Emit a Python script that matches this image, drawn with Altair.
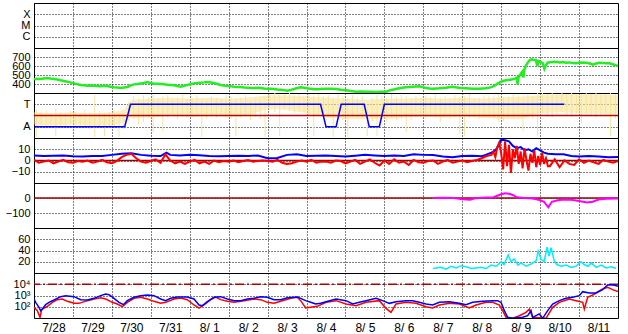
import altair as alt
import pandas as pd

# ---------------- labels ----------------
tick_labels = ["7/28", "7/29", "7/30", "7/31", "8/ 1", "8/ 2", "8/ 3", "8/ 4",
               "8/ 5", "8/ 6", "8/ 7", "8/ 8", "8/ 9", "8/10", "8/11"]
xray_levels = {1: "X", 0: "M", -1: "C"}
mag_levels = {1: "T", -1: "A"}
flux_labels = {10000: "10⁴", 1000: "10³", 100: "10²"}

# ---------------- data (x = days since 7/28 00:00) ----------------
speed_day = [0.00, 0.08, 0.17, 0.25, 0.34, 0.42, 0.51, 0.6, 0.68, 0.77, 0.86, 0.95, 1.03, 1.12, 1.20, 1.29,
             1.37, 1.46, 1.54, 1.63, 1.71, 1.8, 1.88, 1.96, 2.05, 2.14, 2.23, 2.31, 2.40, 2.48, 2.57, 2.66,
             2.74, 2.83, 2.91, 3.0, 3.08, 3.17, 3.25, 3.34, 3.42, 3.51, 3.60, 3.68, 3.77, 3.85, 3.94, 4.02,
             4.11, 4.2, 4.28, 4.37, 4.45, 4.54, 4.62, 4.71, 4.79, 4.88, 4.97, 5.05, 5.14, 5.22, 5.31, 5.4,
             5.48, 5.57, 5.65, 5.74, 5.82, 5.9, 5.99, 6.08, 6.16, 6.25, 6.34, 6.42, 6.51, 6.6, 6.68, 6.77,
             6.85, 6.94, 7.02, 7.1, 7.19, 7.28, 7.36, 7.5, 7.63, 7.76, 7.88, 8.01, 8.14, 8.27, 8.4, 8.53,
             8.65, 8.78, 8.91, 9.04, 9.12, 9.21, 9.3, 9.38, 9.46, 9.55, 9.64, 9.73, 9.81, 9.90, 9.98, 10.07,
             10.16, 10.24, 10.33, 10.41, 10.5, 10.58, 10.66, 10.75, 10.83, 10.92, 11.01, 11.10, 11.18, 11.27,
             11.35, 11.44, 11.52, 11.61, 11.7, 11.78, 11.85, 11.91, 11.98, 12.04, 12.1, 12.17, 12.23, 12.29,
             12.35, 12.40, 12.42, 12.44, 12.47, 12.51, 12.55, 12.57, 12.59, 12.63, 12.68, 12.72, 12.77, 12.83,
             12.89, 12.93, 12.96, 13.02, 13.07, 13.11, 13.15, 13.19, 13.3, 13.41, 13.5, 13.6, 13.66, 13.75,
             13.83, 13.92, 14.0, 14.09, 14.18, 14.26, 14.35, 14.44, 14.52, 14.6, 14.7, 14.78, 14.86, 14.93, 15.0]
speed_val = [452, 458, 456, 462, 467, 460, 456, 450, 441, 433, 426, 415, 407, 398, 389, 385,
             381, 384, 381, 377, 374, 380, 378, 370, 363, 360, 355, 360, 367, 385, 396, 400,
             407, 412, 422, 410, 404, 402, 400, 396, 393, 389, 385, 378, 370, 380, 389, 398,
             407, 411, 415, 418, 422, 416, 411, 400, 389, 382, 378, 374, 370, 368, 367, 362,
             359, 356, 355, 357, 355, 350, 348, 346, 344, 340, 337, 332, 326, 335, 344, 355,
             363, 358, 352, 346, 341, 343, 344, 348, 346, 344, 336, 330, 322, 315, 317, 315,
             313, 311, 313, 315, 326, 337, 345, 352, 358, 363, 367, 370, 372, 374, 365, 355,
             350, 348, 350, 352, 356, 359, 365, 370, 364, 359, 355, 352, 350, 348,
             348, 348, 350, 352, 360, 370, 388, 404, 420, 433, 440, 444, 448, 452,
             460, 470, 396, 467, 490, 519, 540, 470, 556, 600, 637, 660, 674, 670,
             667, 600, 655, 644, 630, 570, 610, 637, 645, 648, 640, 645, 637, 640,
             632, 630, 635, 640, 637, 630, 615, 628, 637, 634, 630, 630, 620, 612, 600]

# magnetometer state: T = 1, A = -1
mag_day = [0, 2.33, 2.48, 7.36, 7.5, 7.76, 7.89, 8.48, 8.61, 8.87, 9.0, 13.62]
mag_val = [-1, -1, 1, 1, -1, -1, 1, 1, -1, -1, 1, 1]

# pale yellow scatter: dense core band and sparse streaks (every 3 hours: high / low)
core_day = [0, 0.5, 1.0, 1.5, 2.0, 2.3, 2.5, 3.0, 3.5, 4.0, 4.5, 5.0, 5.5, 6.0, 6.5, 7.0, 7.5, 8.0,
            8.5, 9.0, 9.5, 10.0, 10.5, 11.0, 11.5, 12.0, 12.5, 13.0, 13.5, 14.0, 14.5, 15.0]
core_hi = [0.3, 0.2, 0.3, 0.2, 0.3, 0.5, 1.4, 1.5, 1.6, 1.5, 1.6, 1.5, 1.6, 1.8, 1.8, 1.7, 1.6, 1.5,
           1.4, 1.5, 1.5, 1.6, 1.5, 1.6, 1.5, 1.6, 1.7, 1.8, 1.9, 1.9, 1.9, 1.8]
core_lo = [-0.8, -0.9, -0.8, -0.9, -0.9, -0.6, -0.2, -0.2, 0.0, -0.1, 0.0, -0.1, 0.0, 0.6, 0.5, 0.2,
           -0.2, -0.3, -0.3, -0.3, -0.2, -0.1, -0.2, -0.1, -0.2, -0.3, -0.3, 0.2, 0.3, 0.2, 0.2, 0.1]
band_hi = [0.5, 0.3, 0.4, 0.2, 0.6, 0.3, 0.2, 0.4, 0.3, 0.2, 0.5, 0.3, 1.8, 0.4, 0.2, 0.3, 0.5, 0.2, 0.4,
           1.2, 1.7, 1.5, 1.8, 1.6,
           1.9, 1.5, 1.7, 1.8, 1.4, 1.6, 1.9, 1.5,
           1.6, 1.8, 1.5, 1.4, 1.7, 1.6, 1.5, 1.8,
           1.7, 1.5, 1.6, 1.8, 1.4, 1.6, 1.5, 1.7,
           1.9, 2.0, 1.8, 1.9, 2.0, 1.8, 1.9, 1.7,
           1.9, 1.8, 1.9, 1.7,
           1.8, 1.6, 1.9, 1.7, 1.5, 1.8, 1.6, 1.7,
           0.8, 1.6, 1.8, 1.7, 1.5, 1.9, 1.6, 1.8, 1.7, 1.5,
           1.7, 1.5, 1.8, 1.6, 1.9, 1.6, 1.7, 1.5, 1.8, 1.6, 1.7, 1.9, 1.5, 1.6, 1.8, 1.7,
           1.8, 1.9, 1.6, 1.7, 1.9, 1.8, 1.6, 1.9, 1.7, 2.0,
           2.0, 1.9, 2.0, 1.8, 2.0, 1.9, 2.0, 1.8, 1.9, 2.0, 1.9, 2.0, 1.8, 1.9, 2.0, 1.9]
band_lo = [-1.9, -0.9, -1.0, -0.8, -1.8, -0.9, -1.0, -0.8, -1.1, -1.0, -0.9, -1.2, -1.9, -1.0, -1.8, -1.1, -1.0, -1.9, -1.2,
           -0.5, -0.3, -0.8, -0.6, -0.2,
           -1.5, -0.1, -1.4, -0.2, 0.1, -0.3, -0.1, -0.2,
           -0.2, 0.0, -1.9, -0.3, -0.1, -0.2, 0.1, -0.2,
           -0.3, -1.8, -0.2, 0.0, -0.4, -0.1, -0.3, -1.9,
           0.5, 0.3, -1.8, 0.6, 0.4, 0.2, 0.5, 0.3,
           0.0, -1.8, 0.2, -0.3,
           -0.2, -1.9, 0.0, -0.4, -1.9, -0.1, -0.3, -0.2,
           -1.8, -0.5, -1.8, -0.3, -0.6, -0.2, -0.4, -0.3, -1.5, -0.4,
           -0.2, -0.1, -0.3, 0.0, -0.2, -0.6, -0.1, -0.3, -0.2, -1.6, -1.8, -0.2, -0.1, -0.3, 0.0, -0.2,
           -0.3, -0.6, -0.5, -0.2, -0.3, -0.1, -1.4, -0.2, -0.3, -1.8,
           0.2, 0.0, -0.2, 0.1, 0.3, 0.0, -0.1, 0.2, -0.7, 0.1, 0.0, -0.2, 0.1, 0.2, -1.8, -0.3]
band_day = [i * 0.125 + 0.06 for i in range(len(band_hi))]

# field strength (blue) and Bz (red), nT
bt_day = [0, 0.25, 0.5, 0.75, 1.0, 1.25, 1.5, 1.75, 2.0, 2.25, 2.5, 2.75, 3.0, 3.25, 3.4, 3.5, 3.75,
          4.0, 4.25, 4.5, 4.75, 5.0, 5.25, 5.5, 5.75, 6.0, 6.25, 6.5, 6.75, 7.0, 7.25, 7.5, 7.75,
          8.0, 8.25, 8.5, 8.75, 9.0, 9.25, 9.5, 9.75, 10.0, 10.25, 10.5, 10.75, 11.0, 11.25, 11.5,
          11.6, 11.75, 11.85, 11.95, 12.0, 12.1, 12.2, 12.3, 12.4, 12.5, 12.6, 12.7, 12.8, 12.9,
          13.0, 13.1, 13.2, 13.4, 13.6, 13.8, 14.0, 14.25, 14.5, 14.75, 15.0]
bt_val = [4.5, 4.0, 4.2, 4.5, 3.8, 3.6, 4.0, 3.9, 5.0, 6.0, 6.5, 5.0, 4.2, 4.0, 7.0, 5.0, 4.5,
          5.0, 4.6, 4.0, 3.8, 4.0, 4.2, 4.0, 4.5, 2.0, 2.2, 5.0, 5.5, 4.0, 4.3, 4.5, 4.0,
          3.5, 4.2, 5.0, 4.5, 4.0, 4.5, 4.0, 5.5, 5.0, 4.8, 3.5, 3.0, 4.0, 4.2, 3.8,
          5.0, 7.0, 9.0, 14.0, 18.5, 18.0, 17.0, 13.0, 11.0, 12.0, 9.0, 10.0, 8.0, 11.0,
          9.0, 7.0, 6.0, 5.5, 5.5, 4.0, 3.5, 4.0, 3.5, 3.0, 3.2]
bz_val = [0.5, -2, -1, 0, -2.5, -1, 0.5, -1.5, -2, -0.5, -1, 0, -2, -1, 0.5, -1.5, -2.5, -0.5,
          3, 5, 6, 2, -1, -2,
          -0.5, 1, -2, 5.5, 0, -2.5, -1, -3,
          -1, 0.5, -2.5, -1, -3, 0, -1.5, -0.5,
          -1, 0, -1.5, -0.5, 0.5, -1, -0.5, 0,
          -0.5, -1, 0.5, -2, -3, -2.5, -1, 0,
          -1, 0.5, -2, -1,
          -1, -2, 0, -0.5, -2.5, -1, 0.5, -3, -1, 1, -2, -4.5, 0, -3, 1, -2, -1, -4, 0.5, -1.5,
          -2, -0.5, 0, -3, -1, 0.5, -2, -1, 0, -1.5, -0.5, 0.5, 2, 4,
          5, 8, 3, 12, 16, 6, -8, 17, -5, 14, -11, 10, 2, 13, -3, 8, -7, 11, 0, -9,
          6, -2, 9, -6, 4, -4, 7, -3, 2, -5,
          -5, 1, -6, 0, -3, -4, 1, -2, 0, -1.5, -3, 0.5, -1, -2, -0.5]
bz_day = ([i * 0.125 for i in range(94)] + [11.75 + i * 0.05 for i in range(30)]
          + [13.25 + i * 0.125 for i in range(15)])

# Dst-like index (magenta)
dst_day = [10.25, 10.5, 10.8, 11.0, 11.2, 11.3, 11.5, 11.8, 12.0, 12.1, 12.2, 12.3, 12.4, 12.6, 12.8,
           12.9, 13.0, 13.1, 13.21, 13.3, 13.45, 13.6, 13.8, 14.0, 14.2, 14.35, 14.5, 14.7, 15.0]
dst_val = [0, 1, 0, -8, -12, -3, 2, 5, 25, 32, 28, 20, 5, 0, -3,
           -8, -15, -25, -62, -25, -15, -10, -12, -20, -30, -25, -10, -5, -4]

# cyan index
kp_day = [10.25, 10.45, 10.58, 10.71, 10.84, 10.97, 11.10, 11.23, 11.35, 11.48, 11.61, 11.74, 11.87,
          12.0, 12.07, 12.18, 12.25, 12.33, 12.43, 12.51, 12.64, 12.77, 12.90, 12.95, 13.02, 13.10,
          13.18, 13.23, 13.28, 13.36, 13.43, 13.54, 13.67, 13.79, 13.92, 14.05, 14.13, 14.23, 14.31,
          14.44, 14.57, 14.69, 14.82, 14.95]
kp_val = [8, 10, 7, 12, 9, 13, 11, 8, 9, 10, 8, 14, 12,
          20, 15, 32, 20, 25, 14, 18, 12, 16, 22, 39, 25, 20,
          46, 30, 45, 22, 15, 12, 14, 10, 12, 20, 15, 12, 18,
          10, 14, 9, 11, 8]

# electron flux (blue and red)
e_blue_day = [0.0, 0.043, 0.128, 0.171, 0.214, 0.30, 0.385, 0.514, 0.685, 0.813, 1.027, 1.199, 1.37,
              1.541, 1.712, 1.841, 1.926, 2.055, 2.183, 2.295, 2.397, 2.568, 2.74, 2.911, 3.082, 3.253,
              3.382, 3.51, 3.682, 3.938, 4.11, 4.238, 4.324, 4.452, 4.623, 4.795, 4.966, 5.137, 5.308,
              5.479, 5.651, 5.822, 5.993, 6.164, 6.336, 6.507, 6.764, 6.849, 6.978, 7.106, 7.235, 7.363,
              7.5, 7.757, 8.014, 8.185, 8.356, 8.527, 8.784, 8.955, 9.127, 9.298, 9.555, 9.726, 9.897,
              10.068, 10.24, 10.411, 10.668, 10.925, 11.096, 11.267, 11.524, 11.781, 11.909, 11.995,
              12.08, 12.166, 12.295, 12.551, 12.68, 12.765, 12.808, 12.979, 13.065, 13.193, 13.322,
              13.493, 13.664, 13.836, 14.007, 14.092, 14.264, 14.435, 14.606, 14.734, 14.863, 15.0]
e_blue_val = [489, 247, 89, 45, 63, 153, 247, 399, 789, 968, 789, 427, 399,
              561, 968, 1360, 1190, 561, 247, 153, 348, 688, 968, 1110, 968, 489,
              348, 561, 737, 737, 489, 143, 125, 283, 688, 789, 489, 348, 348,
              489, 561, 789, 688, 427, 427, 642, 737, 561, 348, 247, 176, 201,
              283, 489, 348, 176, 247, 348, 561, 348, 201, 283, 348, 348, 247,
              176, 143, 247, 283, 201, 153, 247, 303, 348, 348, 247,
              45, 11.5, 9.4, 11.5, 16, 45, 11.5, 23, 9.4, 45, 176,
              348, 561, 688, 968, 2190, 1670, 1670, 3300, 8590, 9190, 6530]
e_red_day = [0.0, 0.086, 0.154, 0.19, 0.214, 0.342, 0.471, 0.599, 0.728, 0.856, 1.027, 1.156, 1.37,
             1.541, 1.712, 1.841, 2.012, 2.14, 2.269, 2.33, 2.397, 2.568, 2.74, 2.911, 3.082, 3.253,
             3.382, 3.596, 3.767, 3.938, 4.11, 4.238, 4.366, 4.538, 4.666, 4.795, 4.966, 5.137, 5.394,
             5.651, 5.822, 5.993, 6.164, 6.336, 6.592, 6.764, 6.849, 6.978, 7.106, 7.277, 7.5, 7.757,
             8.014, 8.271, 8.527, 8.87, 9.041, 9.17, 9.298, 9.555, 9.812, 10.068, 10.24, 10.411, 10.668,
             10.925, 11.182, 11.353, 11.61, 11.781, 11.952, 12.038, 12.123, 12.295, 12.466, 12.637,
             12.723, 12.808, 13.151, 13.322, 13.493, 13.75, 13.921, 14.092, 14.135, 14.221, 14.349,
             14.606, 14.734, 14.863, 15.0]
e_red_val = [89, 45, 11.5, 45, 63, 109, 247, 427, 489, 303, 201, 201, 348,
             489, 642, 489, 247, 176, 102, 150, 247, 561, 688, 489, 303, 201,
             247, 489, 600, 427, 143, 77, 143, 427, 737, 427, 303, 247, 348,
             489, 427, 247, 201, 303, 561, 688, 348, 77, 89, 109, 247, 348,
             176, 125, 247, 348, 72, 32, 176, 247, 201, 102, 77, 143, 201,
             176, 77, 143, 247, 247, 143, 45, 11.5, 9.4, 16, 32,
             63, 11.5, 9.4, 89, 247, 489, 348, 247, 63, 688, 1110,
             3780, 5320, 3300, 2190]

# ---------------- chart ----------------
W, H = 584, 45
day_ticks = list(range(0, 15))
label_expr_x = "[" + ",".join("'" + t + "'" for t in tick_labels) + "][datum.value]"


def xenc(show=False):
    return alt.X("d:Q", scale=alt.Scale(domain=[0, 15], nice=False, zero=False),
                 axis=alt.Axis(values=day_ticks, grid=True, ticks=False, domain=False, labels=show,
                               title=None, labelExpr=label_expr_x, labelOffset=19.47, labelFlush=False,
                               labelOverlap=False, labelPadding=4, labelFontSize=12))


def yenc(field, domain, values, mapping=None, log=False):
    if mapping:
        expr = " : ".join("datum.value == %s ? '%s'" % (k, v) for k, v in mapping.items()) + " : ''"
    else:
        expr = "datum.label"
    sc = alt.Scale(domain=domain, nice=False, zero=False, type="log") if log else \
        alt.Scale(domain=domain, nice=False, zero=False)
    return alt.Y(field + ":Q", scale=sc,
                 axis=alt.Axis(values=values, labelExpr=expr, ticks=False, domain=False, title=None,
                               grid=True, labelPadding=4, labelFontSize=11, labelOverlap=False,
                               labelFlush=False))


def hline(value, domain, values, color, dash=None, mapping=None, log=False, width=1.5):
    m = alt.Chart(pd.DataFrame({"v": [value]})).mark_rule(color=color, strokeWidth=width,
                                                           **({"strokeDash": dash} if dash else {}))
    return m.encode(y=yenc("v", domain, values, mapping, log))


# panel 1: flare classes (no data)
d1 = [-2, 2]
v1 = [1, 0, -1]
p1 = alt.Chart(pd.DataFrame({"d": [0], "v": [0]})).mark_point(opacity=0).encode(
    x=xenc(), y=yenc("v", d1, v1, xray_levels))

# panel 2: green speed
d2 = [300, 800]
v2 = [400, 500, 600, 700]
p2 = alt.Chart(pd.DataFrame({"d": speed_day, "v": speed_val})).mark_line(
    color="#22ee22", strokeWidth=2.5, clip=True).encode(x=xenc(), y=yenc("v", d2, v2))

# panel 3: magnetometer
d3 = [-2, 2]
v3 = [1, -1]
core = alt.Chart(pd.DataFrame({"d": core_day, "lo": core_lo, "hi": core_hi})).mark_area(
    color="#f7e18c", opacity=0.55, clip=True).encode(
    x=xenc(), y=yenc("lo", d3, v3, mag_levels), y2="hi:Q")
band = alt.Chart(pd.DataFrame({"d": band_day, "lo": band_lo, "hi": band_hi})).mark_rule(
    color="#f6e49e", strokeWidth=1, clip=True).encode(
    x=xenc(), y=yenc("lo", d3, v3, mag_levels), y2="hi:Q")
magline = alt.Chart(pd.DataFrame({"d": mag_day, "v": mag_val})).mark_line(
    color="#0000ff", strokeWidth=1.5, clip=True).encode(x=xenc(), y=yenc("v", d3, v3, mag_levels))
p3 = alt.layer(core, band, hline(0, d3, v3, "#c00000", mapping=mag_levels), magline)

# panel 4: field
d4 = [-20, 20]
v4 = [10, 0, -10]
bt = alt.Chart(pd.DataFrame({"d": bt_day, "v": bt_val})).mark_line(
    color="#0000ff", strokeWidth=2, clip=True).encode(x=xenc(), y=yenc("v", d4, v4))
bz = alt.Chart(pd.DataFrame({"d": bz_day, "v": bz_val})).mark_line(
    color="#ff0000", strokeWidth=2, clip=True).encode(x=xenc(), y=yenc("v", d4, v4))
p4 = alt.layer(hline(0, d4, v4, "#a00000"), bt, bz)

# panel 5: magenta index
d5 = [-200, 100]
v5 = [0, -100]
dst = alt.Chart(pd.DataFrame({"d": dst_day, "v": dst_val})).mark_line(
    color="#ff00ff", strokeWidth=2, clip=True).encode(x=xenc(), y=yenc("v", d5, v5))
p5 = alt.layer(hline(0, d5, v5, "#a00000"), dst)

# panel 6: cyan index
d6 = [0, 80]
v6 = [60, 40, 20]
p6 = alt.Chart(pd.DataFrame({"d": kp_day, "v": kp_val})).mark_line(
    color="#00eeff", strokeWidth=1.5, clip=True).encode(x=xenc(), y=yenc("v", d6, v6))

# panel 7: electron flux (log)
d7 = [10, 100000]
v7 = [10000, 1000, 100]
er = alt.Chart(pd.DataFrame({"d": e_red_day, "v": e_red_val})).mark_line(
    color="#ff0000", strokeWidth=1.5, clip=True).encode(x=xenc(True), y=yenc("v", d7, v7, flux_labels, True))
eb = alt.Chart(pd.DataFrame({"d": e_blue_day, "v": e_blue_val})).mark_line(
    color="#0000ff", strokeWidth=1.5, clip=True).encode(x=xenc(True), y=yenc("v", d7, v7, flux_labels, True))
p7 = alt.layer(hline(10000, d7, v7, "#b00000", dash=[9, 3, 2, 3], mapping=flux_labels, log=True),
               er, eb)

panels = [p.properties(width=W, height=H) for p in [p1, p2, p3, p4, p5, p6, p7]]

chart = alt.vconcat(*panels, spacing=0, bounds="flush").configure_view(
    stroke="black", strokeWidth=1
).configure_axis(
    gridColor="black", gridDash=[1, 2], gridOpacity=1, gridWidth=1,
    labelFont="Liberation Sans", labelColor="black", labelFontSize=11
).properties(
    padding={"left": 4, "top": 2, "right": 4, "bottom": 0}, background="white"
)

chart.save("out.html", embed_options={"renderer": "svg", "actions": False})
